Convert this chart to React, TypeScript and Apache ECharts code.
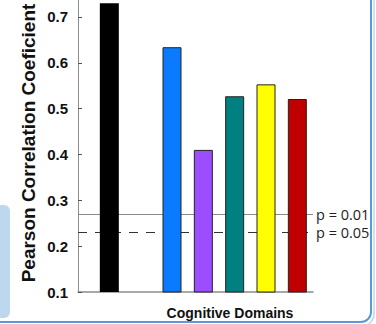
import React, { useEffect, useRef } from "react";
import * as echarts from "echarts";

const xPositions = [1, 3, 4, 5, 6, 7];
const values = [0.73, 0.634, 0.41, 0.527, 0.553, 0.521];
const barColors = ["#000000", "#0A7BFF", "#9B4DFF", "#008080", "#FFFF00", "#C00000"];
const yTicks = [0.1, 0.2, 0.3, 0.4, 0.5, 0.6, 0.7];
const refValues = [0.27, 0.23];
const refLabels = ["p = 0.01", "p = 0.05"];
const yTitle = "Pearson Correlation Coeficient";
const xTitle = "Cognitive Domains";

export default function App() {
  const ref = useRef<HTMLDivElement>(null);
  useEffect(() => {
    document.body.style.margin = "0";
    const chart = echarts.init(ref.current!, null, { renderer: "svg" });
    chart.setOption({
      animation: false,
      backgroundColor: "#ffffff",
      grid: { left: 78, right: 63, top: 0, bottom: 32 },
      xAxis: {
        type: "value",
        min: 0,
        max: 7.5,
        splitLine: { show: false },
        axisLabel: { show: false },
        axisTick: { show: false },
        axisLine: { show: true, lineStyle: { color: "#8c8c8c", width: 1.5 } },
      },
      yAxis: {
        type: "value",
        min: 0.1,
        max: 0.737,
        splitLine: { show: false },
        axisLine: { show: true, lineStyle: { color: "#8c8c8c", width: 1 } },
        axisTick: {
          show: true,
          inside: true,
          length: 4,
          customValues: yTicks,
          lineStyle: { color: "#555" },
        },
        axisLabel: {
          margin: 10,
          customValues: yTicks,
          fontFamily: "Liberation Sans",
          fontWeight: "bold",
          fontSize: 15,
          color: "#111",
          formatter: (v: number) => v.toFixed(1),
        },
      },
      series: [
        {
          type: "bar",
          clip: true,
          barWidth: 19,
          z: 3,
          data: xPositions.map((x, i) => ({
            value: [x, values[i]],
            itemStyle: {
              color: barColors[i],
              borderColor: "#222",
              borderWidth: i === 0 ? 0 : 1,
            },
          })),
          markLine: {
            z: 1,
            silent: true,
            symbol: "none",
            data: refValues.map((v, i) => ({
              yAxis: v,
              lineStyle: {
                color: i === 0 ? "#8a8a8a" : "#333",
                width: 1,
                type: i === 0 ? "solid" : [9, 8],
              },
              label: {
                show: true,
                position: "end",
                distance: 3,
                formatter: refLabels[i],
                fontFamily: "Open Sans",
                fontSize: 14.5,
                color: "#222",
              },
            })),
          },
        },
      ],
      graphic: [
        {
          type: "rect",
          shape: { x: -20, y: 205, width: 30, height: 113, r: 6 },
          style: { fill: "#BDD7EE" },
          silent: true,
        },
        {
          type: "rect",
          shape: { x: -40, y: -40, width: 411, height: 362, r: 10 },
          style: { fill: "none", stroke: "#5B9BD5", lineWidth: 2 },
          silent: true,
        },
        {
          type: "rect",
          shape: { x: -40, y: -40, width: 414, height: 366, r: 12 },
          style: { fill: "none", stroke: "#BDD7EE", lineWidth: 1.5 },
          silent: true,
        },
        {
          type: "text",
          x: 28,
          y: 143,
          rotation: Math.PI / 2,
          style: {
            text: yTitle,
            fontFamily: "Liberation Sans",
            fontWeight: "bold",
            fontSize: 19,
            fill: "#111",
            textAlign: "center",
            textVerticalAlign: "middle",
          },
        },
        {
          type: "text",
          x: 230,
          y: 313,
          style: {
            text: xTitle,
            fontFamily: "Liberation Sans",
            fontWeight: "bold",
            fontSize: 14,
            fill: "#111",
            textAlign: "center",
            textVerticalAlign: "middle",
          },
        },
      ],
    });
    return () => chart.dispose();
  }, []);
  return (
    <div
      ref={ref}
      style={{ position: "absolute", left: 0, top: 0, width: 376, height: 324 }}
    />
  );
}
